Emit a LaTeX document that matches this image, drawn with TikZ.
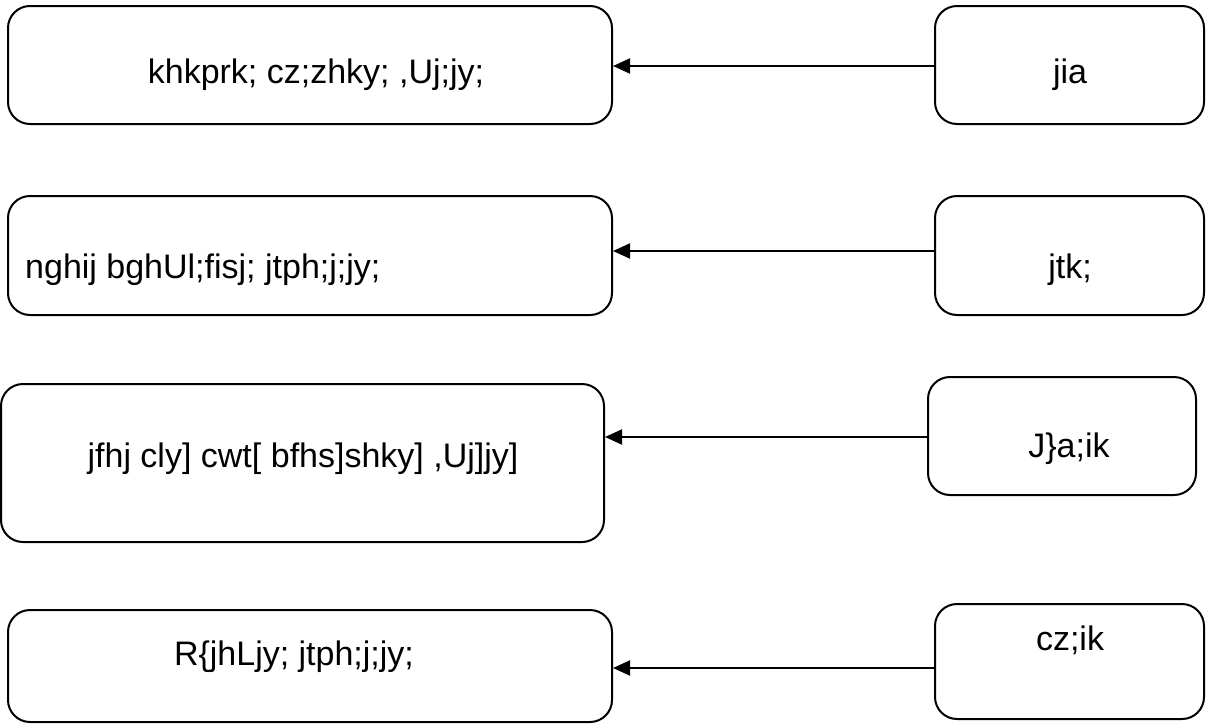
\documentclass[tikz,border=0pt]{standalone}
\usepackage{fontspec}
\setmainfont{Liberation Sans}
\usetikzlibrary{arrows.meta}
\begin{document}
\begin{tikzpicture}[x=1pt,y=-1pt,
  box/.style={draw,line width=2pt,rounded corners=22pt,inner sep=0pt},
  lbl/.style={inner sep=0pt,font=\fontsize{34}{40}\selectfont},
  arr/.style={line width=2pt,-{Triangle[length=17pt,width=15pt]}}]
\useasboundingbox (0,0) rectangle (1218,726);
% left boxes
\node[box,minimum width=604pt,minimum height=118pt] (l1) at (310,65) {};
\node[box,minimum width=604pt,minimum height=119pt] (l2) at (310,255.5) {};
\node[box,minimum width=603pt,minimum height=158pt] (l3) at (302.5,463) {};
\node[box,minimum width=604pt,minimum height=112pt] (l4) at (310,666) {};
% right boxes
\node[box,minimum width=269pt,minimum height=118pt] (r1) at (1069.5,65) {};
\node[box,minimum width=269pt,minimum height=119pt] (r2) at (1069.5,255.5) {};
\node[box,minimum width=268pt,minimum height=118pt] (r3) at (1062,436) {};
\node[box,minimum width=269pt,minimum height=115pt] (r4) at (1069.5,661.5) {};
% texts
\node[lbl] (t1) at (316,75) {khkprk; cz;zhky; ,Uj;jy;};
\node[lbl,anchor=west] (t2) at (25,270) {nghij bghUl;fisj; jtph;j;jy;};
\node[lbl] (t3) at (303,459) {jfhj cly] cwt[ bfhs]shky] ,Uj]jy]};
\node[lbl] (t4) at (294,657) {R\{jhLjy; jtph;j;jy;};
\node[lbl] (u1) at (1070,75) {jia};
\node[lbl] (u2) at (1070,270) {jtk;};
\node[lbl] (u3) at (1069,449) {J\}a;ik};
\node[lbl] (u4) at (1070,640) {cz;ik};
% arrows
\coordinate (a1) at (0,66); \coordinate (a2) at (0,251);
\coordinate (a3) at (0,437); \coordinate (a4) at (0,668);
\draw[arr] (r1.west |- a1) -- (l1.east |- a1);
\draw[arr] (r2.west |- a2) -- (l2.east |- a2);
\draw[arr] (r3.west |- a3) -- (l3.east |- a3);
\draw[arr] (r4.west |- a4) -- (l4.east |- a4);
\end{tikzpicture}
\end{document}
